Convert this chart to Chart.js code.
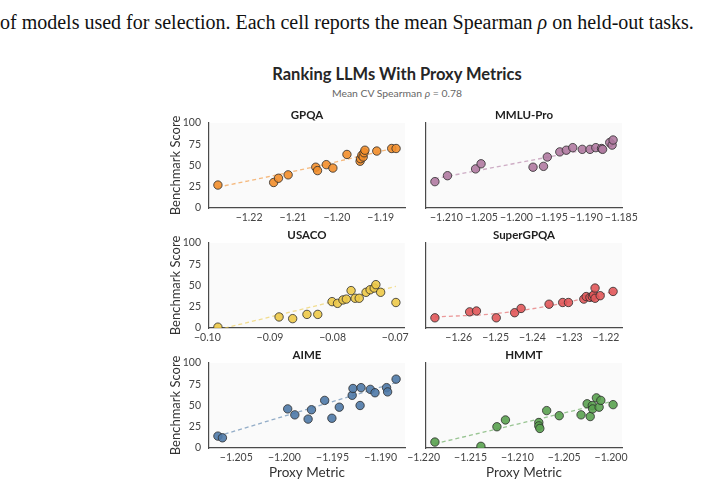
<!DOCTYPE html>
<html>
<head>
<meta charset="utf-8">
<script src="https://cdn.jsdelivr.net/npm/chart.js@4.4.1/dist/chart.umd.min.js"></script>
<style>
  html,body{margin:0;padding:0;background:#fff;}
  body{width:704px;height:487px;position:relative;overflow:hidden;font-family:Lato,sans-serif;}
  .cap{position:absolute;left:0;top:10px;white-space:nowrap;font-family:"Liberation Serif",serif;font-size:20px;line-height:24px;color:#111;}
  .ttl{position:absolute;left:0;width:794px;text-align:center;white-space:nowrap;}
  #t1{top:64px;font-size:16.5px;line-height:20px;font-weight:bold;color:#262626;}
  #t2{top:87px;font-size:10.4px;line-height:13px;color:#666;}
  canvas{position:absolute;}
</style>
</head>
<body>
<div class="cap">of models used for selection. Each cell reports the mean Spearman <i>ρ</i> on held-out tasks.</div>
<div class="ttl" id="t1">Ranking LLMs With Proxy Metrics</div>
<div class="ttl" id="t2">Mean CV Spearman <i>ρ</i> = 0.78</div>
<script>
// ---- data ----
const gpqaX  = [-1.2271,-1.2144,-1.2133,-1.2111,-1.2048,-1.2044,-1.2024,-1.2009,-1.1977,-1.1947,-1.1946,-1.1943,-1.1940,-1.1938,-1.1936,-1.1909,-1.1875,-1.1865];
const gpqaY  = [27,30,35,39,48,44,51,47,63,55,58,62,60,65,68,67,70,70];
const gpqaFitX = [-1.2271,-1.2068,-1.1865];
const gpqaFitY = [24.5,46.5,71];
const gpqaTicks = [-1.22,-1.21,-1.20,-1.19];

const mmluX  = [-1.21165,-1.20985,-1.20583,-1.20505,-1.19762,-1.19612,-1.19558,-1.19379,-1.19286,-1.19194,-1.19058,-1.18947,-1.18864,-1.18782,-1.18767,-1.18665,-1.18631,-1.18617];
const mmluY  = [31,38,46,52,48,49,60,66,68,71,69,69,71,70,69,77,74,80];
const mmluFitX = [-1.21165,-1.18617];
const mmluFitY = [34.5,74.5];
const mmluTicks = [-1.210,-1.205,-1.200,-1.195,-1.190,-1.185];

const usacoX = [-0.09832,-0.08855,-0.08638,-0.08410,-0.08237,-0.08009,-0.07922,-0.07835,-0.07781,-0.07705,-0.07640,-0.07575,-0.07466,-0.07401,-0.07336,-0.07309,-0.07233,-0.06989];
const usacoY = [1,13,11,16,16,31,29,33,34,44,35,35,42,45,47,51,42,30];
const usacoFitX = [-0.09832,-0.06989];
const usacoFitY = [-2,49];
const usacoTicks = [-0.10,-0.09,-0.08,-0.07];

const superX = [-1.26648,-1.25704,-1.25519,-1.24981,-1.24481,-1.24306,-1.23546,-1.23176,-1.23019,-1.22602,-1.22537,-1.22435,-1.22370,-1.22333,-1.22296,-1.22296,-1.22157,-1.21806];
const superY = [12,19,20,12,18,23,28,30,30,34,37,36,37,39,47,35,38,43];
const superFitX = [-1.26648,-1.24981,-1.23546,-1.22370,-1.21806];
const superFitY = [13,17,26,37,43];
const superTicks = [-1.26,-1.25,-1.24,-1.23,-1.22];

const aimeX  = [-1.20691,-1.20644,-1.19966,-1.19892,-1.19754,-1.19719,-1.19582,-1.19507,-1.19430,-1.19296,-1.19288,-1.19214,-1.19204,-1.19108,-1.19059,-1.18939,-1.18928,-1.18840];
const aimeY  = [14,12,46,39,34,45,56,35,48,62,70,50,71,69,65,71,66,81];
const aimeFitX = [-1.20691,-1.18840];
const aimeFitY = [14,77];
const aimeTicks = [-1.205,-1.200,-1.195,-1.190];

const hmmtX  = [-1.21880,-1.21389,-1.21218,-1.21127,-1.20771,-1.20771,-1.20760,-1.20687,-1.20553,-1.20320,-1.20255,-1.20222,-1.20200,-1.20196,-1.20156,-1.20127,-1.20109,-1.19978];
const hmmtY  = [7,2,25,33,30,26,23,44,38,39,52,37,50,46,59,48,56,51];
const hmmtFitX = [-1.21880,-1.19978];
const hmmtFitY = [5,55];
const hmmtTicks = [-1.220,-1.215,-1.210,-1.205,-1.200];

const yTicks = [0,25,50,75,100];

const panels = [
  {name:'GPQA',      x:gpqaX,  y:gpqaY,  fx:gpqaFitX,  fy:gpqaFitY,  ticks:gpqaTicks,  dec:2, color:'#f28e2b', col:0, row:0},
  {name:'MMLU-Pro',  x:mmluX,  y:mmluY,  fx:mmluFitX,  fy:mmluFitY,  ticks:mmluTicks,  dec:3, color:'#b07aa1', col:1, row:0},
  {name:'USACO',     x:usacoX, y:usacoY, fx:usacoFitX, fy:usacoFitY, ticks:usacoTicks, dec:2, color:'#edc948', col:0, row:1},
  {name:'SuperGPQA', x:superX, y:superY, fx:superFitX, fy:superFitY, ticks:superTicks, dec:2, color:'#e15759', col:1, row:1},
  {name:'AIME',      x:aimeX,  y:aimeY,  fx:aimeFitX,  fy:aimeFitY,  ticks:aimeTicks,  dec:3, color:'#4e79a7', col:0, row:2},
  {name:'HMMT',      x:hmmtX,  y:hmmtY,  fx:hmmtFitX,  fy:hmmtFitY,  ticks:hmmtTicks,  dec:3, color:'#59a14f', col:1, row:2},
];

// ---- grid layout (px) ----
const colLeft  = [160,400];
const colW     = [252,250];
const yAxisW   = [49,26];
const rowTop   = [108,228,348];
const rowH     = [120,120,139];
const titleH   = 15;
const areaH    = 85;

function rgba(hex,a){
  const n=parseInt(hex.slice(1),16);
  return `rgba(${n>>16},${(n>>8)&255},${n&255},${a})`;
}

const bgPlugin = {
  id:'plotBg',
  beforeDraw(chart){
    const {ctx,chartArea:a}=chart;
    ctx.save();
    ctx.fillStyle='#fafafa';
    ctx.fillRect(a.left,a.top,a.right-a.left,a.bottom-a.top);
    ctx.restore();
  }
};

Chart.defaults.font.family = 'Lato, sans-serif';
Chart.defaults.animation = false;

panels.forEach(p=>{
  const cv=document.createElement('canvas');
  const w=colW[p.col], h=rowH[p.row];
  cv.width=w; cv.height=h;
  cv.style.left=colLeft[p.col]+'px';
  cv.style.top=rowTop[p.row]+'px';
  cv.style.width=w+'px'; cv.style.height=h+'px';
  document.body.appendChild(cv);

  const lo=Math.min(...p.x), hi=Math.max(...p.x), pad=(hi-lo)*0.05;
  const leftCol = p.col===0, bottomRow = p.row===2;
  const areaRight = p.col===0 ? 405 : 622;

  new Chart(cv,{
    type:'scatter',
    data:{datasets:[
      {
        data:p.x.map((v,i)=>({x:v,y:p.y[i]})),
        backgroundColor:rgba(p.color,0.9),
        borderColor:'#2b2b2b',
        borderWidth:0.8,
        pointRadius:4.2,
        order:0
      },
      {
        type:'line',
        data:p.fx.map((v,i)=>({x:v,y:p.fy[i]})),
        borderColor:rgba(p.color,0.6),
        borderWidth:1.3,
        borderDash:[4,3],
        pointRadius:0,
        fill:false,
        cubicInterpolationMode:'monotone',
        order:1
      }
    ]},
    options:{
      responsive:false,
      devicePixelRatio:1,
      layout:{padding:{left:0,top:0,bottom:0,right:colLeft[p.col]+w-areaRight}},
      plugins:{
        legend:{display:false},
        tooltip:{enabled:false},
        title:{display:true,text:p.name,fullSize:false,color:'#1f1f1f',
          font:{size:11.5,weight:'bold'},padding:{top:0,bottom:titleH-13.8}}
      },
      scales:{
        x:{
          type:'linear',min:lo-pad,max:hi+pad,
          afterBuildTicks:s=>{ s.ticks=p.ticks.map(v=>({value:v})); },
          afterFit:s=>{ s.height=h-titleH-areaH; },
          grid:{display:false,drawTicks:false},
          border:{color:'#4a4a4a',width:1.2},
          ticks:{font:{size:10.5},color:'#444',padding:3,maxRotation:0,autoSkip:false,
            callback:v=>v.toFixed(p.dec).replace('-','\u2212')},
          title:{display:bottomRow,text:'Proxy Metric',color:'#333',font:{size:13.5},padding:{top:0,bottom:6}}
        },
        y:{
          min:0,max:100,
          afterBuildTicks:s=>{ s.ticks=yTicks.map(v=>({value:v})); },
          afterFit:s=>{ s.width=yAxisW[p.col]; },
          grid:{display:false,drawTicks:false},
          border:{color:'#4a4a4a',width:1.2},
          ticks:{display:leftCol,font:{size:10.5},color:'#444',padding:8},
          title:{display:leftCol,text:'Benchmark Score',color:'#333',font:{size:13},padding:{top:8,bottom:0}}
        }
      }
    },
    plugins:[bgPlugin]
  });
});
</script>
</body>
</html>
